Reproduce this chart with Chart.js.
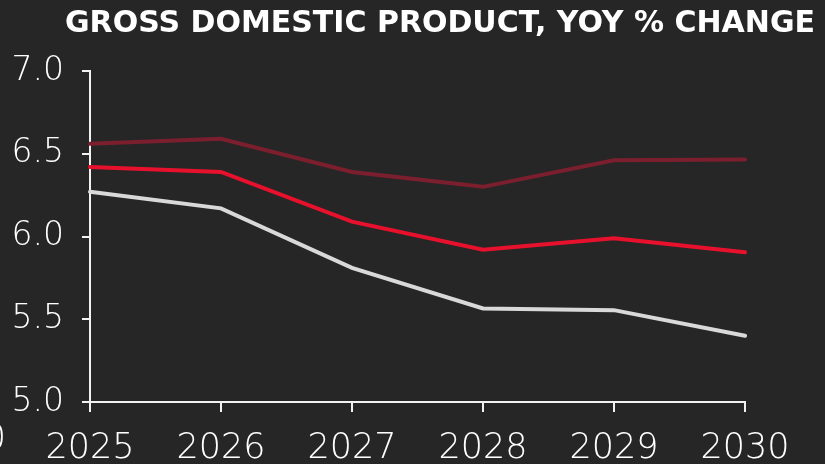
<!DOCTYPE html>
<html>
<head>
<meta charset="utf-8">
<script src="https://cdn.jsdelivr.net/npm/chart.js@4.4.1/dist/chart.umd.min.js"></script>
<style>
  html, body { margin: 0; padding: 0; background: #262626; }
  #wrap { width: 825px; height: 464px; position: relative; }
</style>
</head>
<body>
<div id="wrap"><canvas id="c" width="825" height="464"></canvas></div>
<script>
// GDP growth outlook, year-over-year % change
const years = ['2025', '2026', '2027', '2028', '2029', '2030'];
const upperSeries = [6.56, 6.59, 6.39, 6.30, 6.46, 6.465];
const middleSeries = [6.42, 6.39, 6.09, 5.92, 5.99, 5.905];
const lowerSeries = [6.27, 6.17, 5.81, 5.565, 5.555, 5.40];
const yTicks = [5.0, 5.5, 6.0, 6.5, 7.0];
const chartTitle = 'GROSS DOMESTIC PRODUCT, YOY % CHANGE';

const axisColor = '#f2f2f2';
const labelColor = '#ffffff';
const yFont = { family: 'DejaVu Sans', size: 33, weight: 200 };
const xFont = { family: 'DejaVu Sans', size: 35, weight: 200 };

const titlePlugin = {
  id: 'topTitle',
  afterDraw(chart) {
    const ctx = chart.ctx;
    ctx.save();
    ctx.fillStyle = '#ffffff';
    ctx.font = 'bold 30px "DejaVu Sans"';
    ctx.textAlign = 'right';
    ctx.textBaseline = 'alphabetic';
    const w = ctx.measureText(chartTitle).width;
    const target = 750;
    ctx.translate(815, 32);
    if (w > target) ctx.scale(target / w, 1);
    ctx.fillText(chartTitle, 0, 0);
    ctx.restore();

    // partial label at the left edge, just above the category row
    ctx.save();
    ctx.font = '200 35px "DejaVu Sans"';
    ctx.fillStyle = labelColor;
    ctx.textAlign = 'right';
    ctx.fillText('0', 6, 449);
    ctx.restore();
  }
};

function lineSet(data, color) {
  return {
    data,
    borderColor: color,
    borderWidth: 4,
    borderCapStyle: 'round',
    borderJoinStyle: 'miter',
    pointRadius: 0,
    tension: 0,
    fill: false
  };
}

new Chart(document.getElementById('c'), {
  type: 'line',
  data: {
    labels: years,
    datasets: [
      lineSet(upperSeries, '#7b1f2f'),
      lineSet(middleSeries, '#e8112d'),
      lineSet(lowerSeries, '#d9d9d9')
    ]
  },
  options: {
    responsive: false,
    animation: false,
    devicePixelRatio: 1,
    layout: { padding: { top: 71, right: 80, left: 0, bottom: 0 } },
    plugins: { legend: { display: false }, tooltip: { enabled: false }, title: { display: false } },
    scales: {
      x: {
        offset: false,
        grid: { display: true, drawOnChartArea: false, color: axisColor, lineWidth: 2, tickLength: 10 },
        border: { display: true, color: axisColor, width: 2 },
        ticks: { color: labelColor, font: xFont, padding: 16, maxRotation: 0, autoSkip: false },
        afterFit(s) { s.height = 62; }
      },
      y: {
        min: 5.0,
        max: 7.0,
        afterBuildTicks(s) { s.ticks = yTicks.map(v => ({ value: v })); },
        grid: { display: true, drawOnChartArea: false, color: axisColor, lineWidth: 2, tickLength: 8 },
        border: { display: true, color: axisColor, width: 2 },
        ticks: { color: labelColor, font: yFont, padding: 18, callback: v => v.toFixed(1) },
        afterFit(s) { s.width = 90; }
      }
    }
  },
  plugins: [titlePlugin]
});
</script>
</body>
</html>
